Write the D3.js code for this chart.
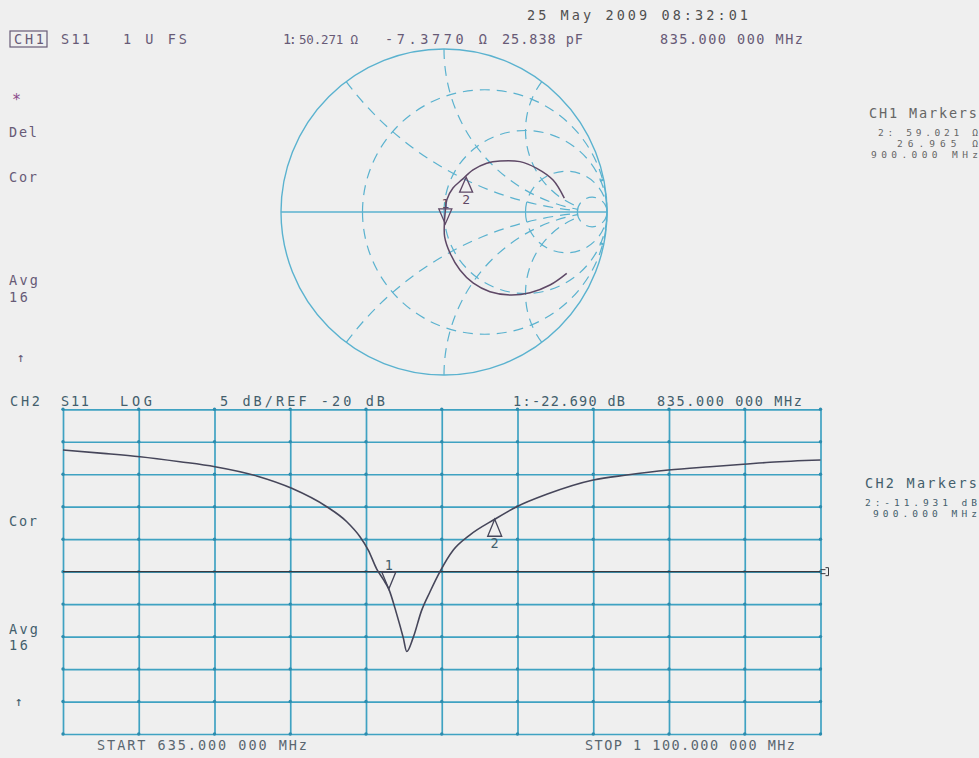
<!DOCTYPE html>
<html><head><meta charset="utf-8">
<script src="https://cdn.jsdelivr.net/npm/d3@7"></script>
<style>
body{margin:0;background:#efefef;}
svg{display:block;}
text{font-family:"DejaVu Sans Mono",monospace;}
</style></head><body>
<svg id="chart" width="979" height="758"></svg>
<script>
// ---------- sweep settings ----------
const startMHz = 635, stopMHz = 1100;
const refDb = -20, dbPerDiv = 5, divisions = 10;
const z0 = 50;

// ---------- CH2: S11 log magnitude trace ----------
const freqMHz = [635, 659.7, 682.3, 706.8, 728.3, 753.9, 775.4, 796.9, 809.2, 817.3, 822.4, 827.6, 831.6, 835, 839.8, 843.9, 846, 849.9, 855.1, 860.3, 866.4, 874.6, 884.7, 900, 913.5, 931.9, 960.5, 981, 1006.6, 1032.2, 1052.6, 1069, 1100];
const s11Db   = [-1.27, -1.78, -2.30, -3.07, -3.84, -5.27, -7.17, -10.0, -12.31, -14.62, -16.67, -19.6, -21.2, -22.69, -26.5, -30.2, -32.3, -30.2, -26.0, -23.1, -20.0, -16.67, -14.36, -11.93, -10.0, -8.09, -5.89, -5.12, -4.35, -3.84, -3.47, -3.16, -2.81];

// ---------- CH1: S11 on the Smith chart (reflection coefficient) ----------
const gammaRe = [0.753, 0.650, 0.528, 0.405, 0.282, 0.180, 0.098, 0.037, 0.004, 0.002, 0.008, 0.017, 0.055, 0.112, 0.178, 0.262, 0.344, 0.466, 0.569, 0.669, 0.738];
const gammaIm = [-0.376, -0.448, -0.495, -0.509, -0.489, -0.437, -0.356, -0.252, -0.152, -0.075, 0.005, 0.074, 0.147, 0.200, 0.258, 0.299, 0.313, 0.309, 0.268, 0.196, 0.085];

// ---------- markers ----------
const markerId   = [1, 2];
const markerFreq = [835, 900];          // MHz
const markerDb   = [-22.690, -11.931];  // dB
const markerR    = [50.271, 59.021];    // ohm
const markerX    = [-7.3770, 26.965];   // ohm

// ---------- Smith graticule (normalised r and x) ----------
const resistanceCircles = [1/3, 1, 3, 10];
const reactanceArcs = [0.5, 1, 2, -0.5, -1, -2];
const rimArcs = [10, -10];

// ---------- colours ----------
const bg = "#efefef";
const gridColor = "#3fa2c2";
const smithColor = "#5ab2cf";
const traceColor = "#46465a";
const smithTrace = "#5e4866";
const ch1Text = "#675a76";
const ch2Text = "#435e6c";

const svg = d3.select("#chart");
svg.append("rect").attr("width", 979).attr("height", 758).attr("fill", bg);

// ================= Smith chart =================
const sc = {cx: 444, cy: 212, R: 163};
const gx = d3.scaleLinear().domain([-1, 1]).range([sc.cx - sc.R, sc.cx + sc.R]);
const gy = d3.scaleLinear().domain([-1, 1]).range([sc.cy + sc.R, sc.cy - sc.R]);

function zToGamma(r, x) {
  const den = (r + 1) * (r + 1) + x * x;
  return [(r * r + x * x - 1) / den, (2 * x) / den];
}
const dashed = sel => sel.attr("fill", "none").attr("stroke", smithColor)
  .attr("stroke-width", 1.2).attr("stroke-dasharray", "10,7");

const smith = svg.append("g");
// constant-resistance circles, each drawn as two halves starting on the real axis
resistanceCircles.forEach(r => {
  const rad = (gx(1) - gx(0)) / (1 + r);
  const left = zToGamma(r, 0);
  const x0 = gx(left[0]), x1 = gx(1);
  [1, 0].forEach(sweep => {
    smith.append("path")
      .attr("d", `M${x0},${sc.cy} A${rad},${rad} 0 0 ${sweep} ${x1},${sc.cy}`)
      .call(dashed);
  });
});
// constant-reactance arcs from the rim inwards (inductive arcs turn anticlockwise on screen)
function reactancePath(x, rFrom, rTo) {
  const rad = (gx(1) - gx(0)) / Math.abs(x);
  const p0 = zToGamma(rFrom, x), p1 = zToGamma(rTo, x);
  return `M${gx(p0[0])},${gy(p0[1])} A${rad},${rad} 0 0 ${x > 0 ? 0 : 1} ${gx(p1[0])},${gy(p1[1])}`;
}
reactanceArcs.forEach(x => smith.append("path").attr("d", reactancePath(x, 0, 10)).call(dashed));
rimArcs.forEach(x => smith.append("path").attr("d", reactancePath(x, 0, 1.5)).call(dashed)
  .attr("stroke-dasharray", "4,2").attr("stroke-width", 2));
// rim and real axis
smith.append("circle").attr("cx", sc.cx).attr("cy", sc.cy).attr("r", sc.R)
  .attr("fill", "none").attr("stroke", smithColor).attr("stroke-width", 1.4);
smith.append("line").attr("x1", gx(-1)).attr("x2", gx(1)).attr("y1", sc.cy).attr("y2", sc.cy)
  .attr("stroke", smithColor).attr("stroke-width", 1.4);

// trace
const smithPts = gammaRe.map((u, i) => [gx(u), gy(gammaIm[i])]);
smith.append("path").attr("d", d3.line().curve(d3.curveCatmullRom)(smithPts))
  .attr("fill", "none").attr("stroke", smithTrace).attr("stroke-width", 1.5);

// markers on the Smith chart
markerId.forEach((id, i) => {
  const g = zToGamma(markerR[i] / z0, markerX[i] / z0);
  const px = gx(g[0]), py = gy(g[1]);
  const w = 6.5, h = 15;
  const down = id === 1;
  const tri = down
    ? [[px - w, py - h], [px + w, py - h], [px, py]]
    : [[px, py], [px - w, py + h], [px + w, py + h]];
  smith.append("path").attr("d", d3.line()(tri) + "Z")
    .attr("fill", "none").attr("stroke", smithTrace).attr("stroke-width", 1.3);
  smith.append("text").attr("x", px).attr("y", down ? py - h - 1 : py + h + 12)
    .attr("text-anchor", "middle").attr("font-size", 13).attr("fill", smithTrace).text(id);
});

// ================= Log magnitude plot =================
const plot = {x0: 63, x1: 820.5, y0: 409.3, y1: 734};
const fx = d3.scaleLinear().domain([startMHz, stopMHz]).range([plot.x0, plot.x1]);
const dbTop = refDb + dbPerDiv * divisions / 2, dbBot = refDb - dbPerDiv * divisions / 2;
const fy = d3.scaleLinear().domain([dbBot, dbTop]).range([plot.y1, plot.y0]);

const lp = svg.append("g");
const fTicks = d3.range(divisions + 1).map(i => startMHz + i * (stopMHz - startMHz) / divisions);
const dTicks = d3.range(divisions + 1).map(i => dbBot + i * dbPerDiv);

lp.append("g").attr("transform", `translate(0,${plot.y1})`)
  .call(d3.axisBottom(fx).tickValues(fTicks).tickSize(-(plot.y1 - plot.y0)).tickFormat(""))
  .call(g => g.select(".domain").remove())
  .selectAll("line").attr("stroke", gridColor).attr("stroke-width", 1.7);
lp.append("g").attr("transform", `translate(${plot.x0},0)`)
  .call(d3.axisLeft(fy).tickValues(dTicks).tickSize(-(plot.x1 - plot.x0)).tickFormat(""))
  .call(g => g.select(".domain").remove())
  .selectAll("line").attr("stroke", gridColor).attr("stroke-width", 1.7);
// intersection dots
fTicks.forEach(f => dTicks.forEach(d => {
  lp.append("circle").attr("cx", fx(f)).attr("cy", fy(d)).attr("r", 1.7).attr("fill", "#2c8cae");
}));

// reference line
lp.append("line").attr("x1", plot.x0).attr("x2", plot.x1).attr("y1", fy(refDb)).attr("y2", fy(refDb))
  .attr("stroke", "#3a3a40").attr("stroke-width", 1.4);
const ry = fy(refDb), rx = plot.x1;
lp.append("path").attr("d", `M${rx},${ry - 2} h5 M${rx},${ry + 2} h5 M${rx + 5},${ry - 4} h3 v8 h-3`)
  .attr("fill", "none").attr("stroke", "#3a3a40").attr("stroke-width", 1);

// trace
lp.append("path")
  .attr("d", d3.line().x(f => fx(f)).y((f, i) => fy(s11Db[i])).curve(d3.curveMonotoneX)(freqMHz))
  .attr("fill", "none").attr("stroke", traceColor).attr("stroke-width", 1.6);

// markers
markerId.forEach((id, i) => {
  const px = fx(markerFreq[i]), py = fy(markerDb[i]);
  const w = 7, h = 17;
  const down = id === 1;
  const tri = down
    ? [[px - w, py - h], [px + w, py - h], [px, py]]
    : [[px, py], [px - w, py + h], [px + w, py + h]];
  lp.append("path").attr("d", d3.line()(tri) + "Z")
    .attr("fill", "none").attr("stroke", traceColor).attr("stroke-width", 1.3);
  lp.append("text").attr("x", px).attr("y", down ? py - h - 2 : py + h + 12)
    .attr("text-anchor", "middle").attr("font-size", 13.5).attr("fill", ch2Text).text(id);
});

// ================= annotations =================
const fs = 13.5;
const labels = [
  // text, x, baseline, width, colour, size
  ["25 May 2009  08:32:01", 527, 20, 221, "#505050", fs],
  ["CH1", 14, 44, 30, ch1Text, fs],
  ["S11", 61, 44, 29, ch1Text, fs],
  ["1 U FS", 123, 44, 64, ch1Text, fs],
  ["1:", 283, 44, 14, ch1Text, fs],
  ["50.271 Ω", 299, 44, 59, ch1Text, 12.5],
  ["-7.3770 Ω", 385, 44, 102, ch1Text, fs],
  ["25.838 pF", 502, 44, 81, ch1Text, fs],
  ["835.000 000 MHz", 660, 44, 143, ch1Text, fs],
  ["Del", 9, 137, 28, ch1Text, fs],
  ["Cor", 9, 182, 28, ch1Text, fs],
  ["Avg", 9, 285, 29, ch1Text, fs],
  ["16", 9, 302, 19, ch1Text, fs],
  ["CH2", 10, 406, 30, ch2Text, fs],
  ["S11", 61, 406, 28, ch2Text, fs],
  ["LOG", 120, 406, 32, ch2Text, fs],
  ["5 dB/REF -20 dB", 220, 406, 165, ch2Text, fs],
  ["1:-22.690 dB", 513, 406, 112, ch2Text, fs],
  ["835.000 000 MHz", 657, 406, 145, ch2Text, fs],
  ["Cor", 9, 526, 28, ch2Text, fs],
  ["Avg", 9, 634, 29, ch2Text, fs],
  ["16", 9, 650, 19, ch2Text, fs],
  ["CH1 Markers", 869, 118, 108, "#666", fs],
  ["CH2 Markers", 865, 488, 112, ch2Text, fs],
  ["START 635.000 000 MHz", 97, 750, 210, "#5a6670", fs],
  ["STOP 1 100.000 000 MHz", 585, 750, 210, "#5a6670", fs],
  // marker readouts (small type, tight leading)
  ["2: 59.021 Ω", 878, 136, 100, "#666", 9.5],
  ["26.965 Ω", 897, 147, 81, "#666", 9.5],
  ["900.000 MHz", 871, 158, 107, "#666", 9.5],
  ["2:-11.931 dB", 865, 505.5, 112, ch2Text, 9.5],
  ["900.000 MHz", 873, 516.5, 104, ch2Text, 9.5]
];
labels.forEach(([t, x, y, w, c, s]) => {
  svg.append("text").attr("x", x).attr("y", y).attr("font-size", s).attr("fill", c)
    .attr("textLength", w).attr("lengthAdjust", "spacing").text(t);
});
// CH1 box, star and arrows
svg.append("rect").attr("x", 10).attr("y", 31).attr("width", 37).attr("height", 16)
  .attr("fill", "none").attr("stroke", ch1Text).attr("stroke-width", 1.2);
svg.append("text").attr("x", 12).attr("y", 105).attr("font-size", 15).attr("fill", "#8a4a8a").text("*");
svg.append("text").attr("x", 21).attr("y", 362).attr("font-size", 13).attr("fill", ch1Text)
  .attr("text-anchor", "middle").text("↑");
svg.append("text").attr("x", 19).attr("y", 706).attr("font-size", 13).attr("fill", ch2Text)
  .attr("text-anchor", "middle").text("↑");
</script>
</body></html>
